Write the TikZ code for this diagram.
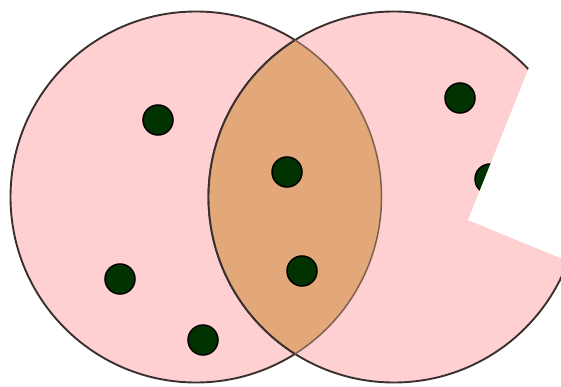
\documentclass[tikz,border=0pt]{standalone}
\usetikzlibrary{positioning}
\definecolor{vennpink}{RGB}{255,208,210}
\definecolor{venntan}{RGB}{226,168,122}
\definecolor{dotgreen}{RGB}{0,51,0}
\definecolor{rimgray}{RGB}{58,48,48}
\tikzset{
  setdisc/.style={
    circle,
    draw=rimgray,
    line width=1.9pt,
    fill=vennpink,
    minimum size=371pt,
    inner sep=0pt
  },
  elem/.style={
    circle,
    draw=black,
    line width=1.5pt,
    fill=dotgreen,
    minimum size=30pt,
    inner sep=0pt
  }
}
\begin{document}
\begin{tikzpicture}[x=1pt,y=-1pt]
\useasboundingbox (0,0) rectangle (561,387);
\clip (0,0) rectangle (561,387);
% the two sets
\node[setdisc] (setA) at (196,197) {};
\node[setdisc] (setB) at (394,197) {};
% common part
\begin{scope}
  \clip (setA.center) circle (185.5pt);
  \fill[venntan] (setB.center) circle (185.5pt);
  \draw[rimgray,line width=1.9pt] (setB.center) circle (185.5pt);
\end{scope}
\begin{scope}
  \clip (setB.center) circle (185.5pt);
  \draw[rimgray!60!venntan,line width=1.5pt] (setA.center) circle (185.5pt);
\end{scope}
% elements
\node[elem] (a1) at (158,120) {};
\node[elem] (a2) at (120,279) {};
\node[elem] (a3) at (203,340) {};
\node[elem] (c1) at (287,172) {};
\node[elem] (c2) at (302,271) {};
\node[elem] (b1) at (460,98) {};
\node[elem] (b2) at (490,179) {};
% cut-out
\fill[white] (468,220) -- (575,264) -- (575,-5) -- (558,-5) -- cycle;
\end{tikzpicture}
\end{document}
